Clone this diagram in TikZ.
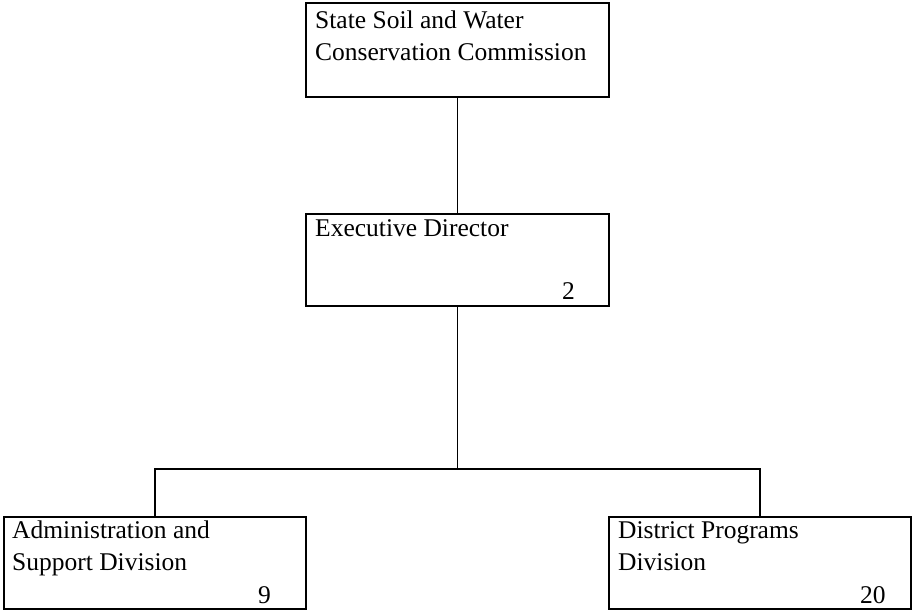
\documentclass[tikz,border=0pt]{standalone}
\usepackage{fontspec}
\setmainfont{Liberation Serif}

\tikzset{
  unitbox/.style={draw=black, line width=1.9pt, rectangle, inner sep=0pt, anchor=north west},
  unittext/.style={anchor=base west, inner sep=0pt, align=left, font=\fontsize{25.5}{32}\selectfont},
  unitnum/.style={anchor=base west, inner sep=0pt, font=\fontsize{25.5}{32}\selectfont},
  link/.style={draw=black, line width=1.9pt}
}

\begin{document}
\begin{tikzpicture}[x=1pt,y=-1pt]
\useasboundingbox (0,0) rectangle (912,610);
\node[unitbox, minimum width=303pt, minimum height=94pt] (comm) at (305,2) {};
\node[unittext] (comm-t) at ([shift={(10,58)}]comm.north west) {State Soil and Water\\Conservation Commission};
\node[unitbox, minimum width=303pt, minimum height=92pt] (exec) at (305,213) {};
\node[unittext] (exec-t) at ([shift={(10,23)}]exec.north west) {Executive Director};
\node[unitnum] (exec-n) at ([shift={(257,-7)}]exec.south west) {2};
\node[unitbox, minimum width=302pt, minimum height=92pt] (admin) at (3,516) {};
\node[unittext] (admin-t) at ([shift={(9,54)}]admin.north west) {Administration and\\Support Division};
\node[unitnum] (admin-n) at ([shift={(255,-6)}]admin.south west) {9};
\node[unitbox, minimum width=302pt, minimum height=92pt] (dist) at (608,516) {};
\node[unittext] (dist-t) at ([shift={(10,54)}]dist.north west) {District Programs\\Division};
\node[unitnum] (dist-n) at ([shift={(252,-6)}]dist.south west) {20};
\coordinate (fork) at (exec.south |- 0,469);
\draw[link] (comm.south) -- (exec.north);
\draw[link] (exec.south) -- (fork);
\draw[link] (admin.north) |- (fork) -| (dist.north);
\end{tikzpicture}
\end{document}
